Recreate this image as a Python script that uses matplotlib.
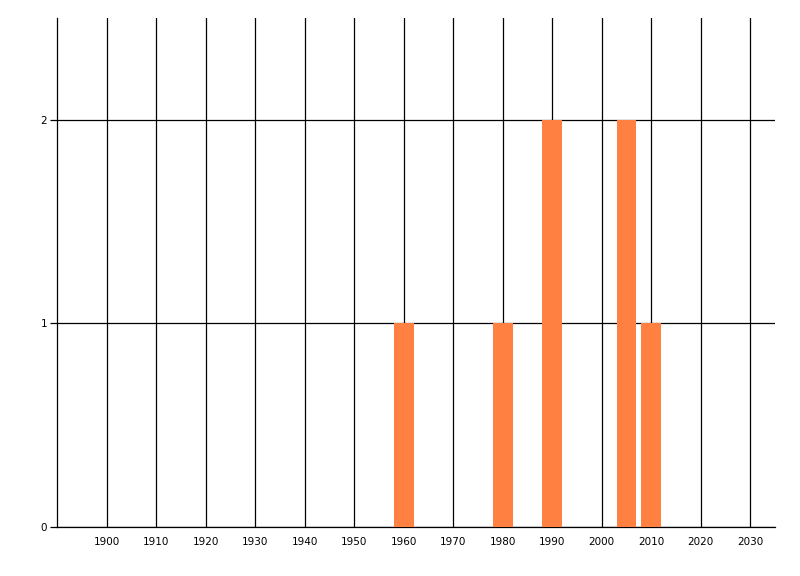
import matplotlib
matplotlib.use("Agg")
import matplotlib.pyplot as plt

years = [1960, 1980, 1990, 2005, 2010]
counts = [1, 1, 2, 2, 1]
xticks = list(range(1900, 2031, 10))
yticks = [0, 1, 2]

fig = plt.figure(figsize=(8, 5.76), dpi=100)
ax = fig.add_axes([57/800, 1-527/576, (775-57)/800, (527-18)/576])
ax.bar(years, counts, width=4, color="#FF8040", zorder=3)
ax.set_xlim(1890, 2035)
ax.set_ylim(0, 2.5)
ax.set_xticks(xticks)
ax.set_xticklabels([str(v) for v in xticks])
ax.set_yticks(yticks)
ax.set_yticklabels([str(v) for v in yticks])
ax.grid(True, color="black", linewidth=0.9, zorder=1)
ax.set_axisbelow(True)
for s in ["top", "right"]:
    ax.spines[s].set_visible(False)
for s in ["left", "bottom"]:
    ax.spines[s].set_linewidth(0.9)
ax.tick_params(axis="x", length=0, pad=7, labelsize=7.5)
ax.tick_params(axis="y", length=5, width=0.9, pad=2, labelsize=7.5)
fig.savefig("out.png", dpi=100)
